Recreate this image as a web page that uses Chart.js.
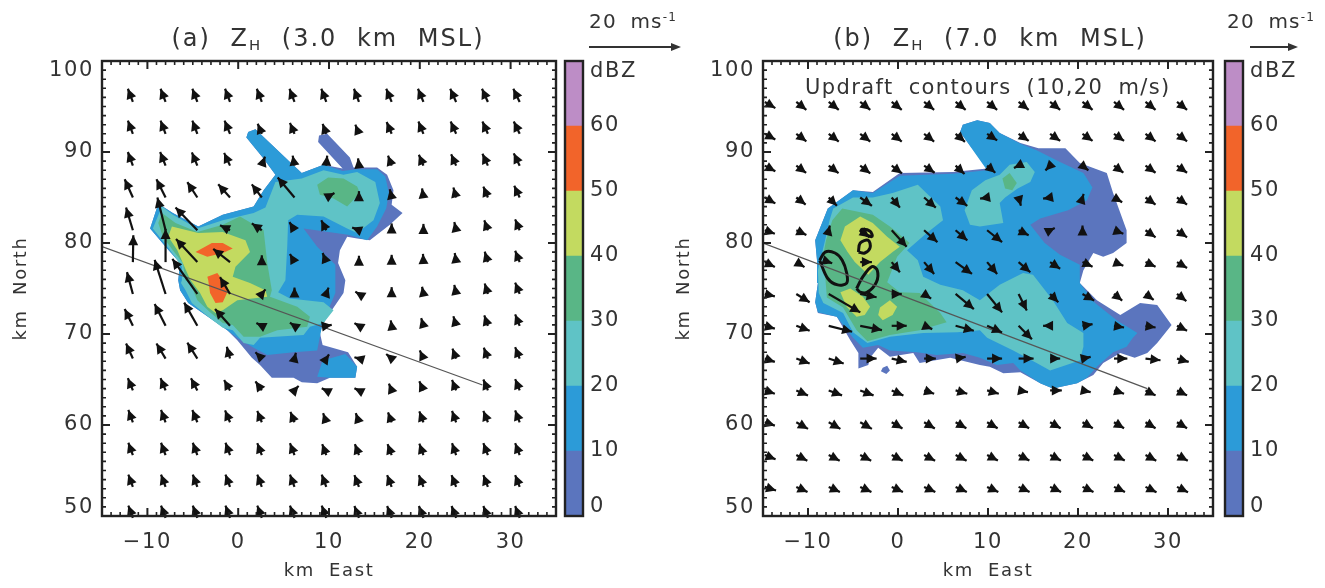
<!DOCTYPE html>
<html><head><meta charset="utf-8">
<script src="https://cdn.jsdelivr.net/npm/chart.js@4/dist/chart.umd.min.js"></script>
<style>
html,body{margin:0;padding:0;background:#fff;width:1325px;height:588px;overflow:hidden}
canvas{position:absolute;filter:blur(.45px)}
.t{position:absolute;white-space:nowrap;font-family:"DejaVu Sans";color:#333;filter:blur(.35px);line-height:1}
.t sub{font-size:.62em;vertical-align:-.25em;line-height:0}
.t sup{font-size:.6em;vertical-align:.55em;line-height:0}
.ttl{font-size:24px;letter-spacing:2px;word-spacing:10px;transform:translateX(-50%)}
.key{font-size:20px;letter-spacing:1.2px;word-spacing:6px}
svg{position:absolute;left:0;top:0;filter:blur(.35px)}
</style></head><body>
<canvas id="mapA" width="560" height="588" style="left:0;top:0;width:560px;height:588px"></canvas>
<canvas id="barA" width="100" height="588" style="left:560px;top:0;width:100px;height:588px"></canvas>
<canvas id="mapB" width="553" height="588" style="left:663px;top:0;width:553px;height:588px"></canvas>
<canvas id="barB" width="105" height="588" style="left:1220px;top:0;width:105px;height:588px"></canvas>
<div class="t ttl" style="left:328px;top:26px">(a) Z<sub>H</sub> (3.0 km MSL)</div>
<div class="t ttl" style="left:990px;top:26px">(b) Z<sub>H</sub> (7.0 km MSL)</div>
<div class="t key" style="left:589px;top:11px">20 ms<sup>-1</sup></div>
<div class="t key" style="left:1227px;top:11px">20 ms<sup>-1</sup></div>
<div class="t" style="left:805px;top:77px;font-size:21px;letter-spacing:1.4px;word-spacing:7px">Updraft contours (10,20 m/s)</div>
<svg width="1325" height="60"><g stroke="#333" stroke-width="2" fill="#333">
<line x1="589" y1="47" x2="674" y2="47"/><path d="M681 47 L671 43 L671 51 Z" stroke="none"/>
<line x1="1250" y1="47" x2="1291" y2="47"/><path d="M1298 47 L1288 43 L1288 51 Z" stroke="none"/>
</g></svg>
<script>
// ---------- axes ----------
const xTickValues=[-10,0,10,20,30];
const xTickLabels=['\u221210','0','10','20','30'];
const yTickValues=[50.9,60,70,80,90,99];
const yTickLabels=['50','60','70','80','90','100'];
const cbLevels=[0,10,20,30,40,50,60,70];
const cbColors=['#5b75be','#2c9bd8','#5fc3c6','#59b686','#c3da60','#f2642a','#bd8dc6'];
const cbTickValues=[1.4,10,20,30,40,50,60,68.4];
const cbTickLabels=['0','10','20','30','40','50','60','dBZ'];
// ---------- section lines ----------
const sectionA=[[-15,79.6],[26.9,64.4]];
const sectionB=[[-15,80],[27.7,64]];
// ---------- reflectivity polygons, panel a (km east, km north) ----------
const aLevel0=[[-9.7,81.6],[-8.8,84.3],[-7.2,83.3],[-4.4,81.8],[-1.7,83.1],[1.7,84],[2.8,85.8],[4.1,87.5],[2.7,89.4],[0.9,91.6],[1.1,92.2],[1.9,92.5],[3.7,90.8],[5.7,88.9],[7,87.7],[9.4,88.6],[11.5,88.2],[8.8,91.1],[8.9,91.8],[9.8,92],[12.3,89.4],[12.7,88.3],[15.3,88.3],[16.4,87.5],[17.1,85.8],[16.9,84.2],[18.1,83.3],[16.7,82],[14.5,80.3],[13.1,80.5],[12,80.7],[11.2,79.2],[11,77.8],[11.8,75.9],[11.6,74.5],[10.1,72.3],[9.4,71.2],[9,70.1],[9.3,68.8],[12.1,68],[13.1,66.4],[12.9,65.2],[10.1,65.2],[8.7,64.6],[7,64.7],[6.1,65.2],[3.7,65.2],[2.4,66.6],[1.5,67.4],[-0.1,69.3],[-1.2,70.4],[-3.6,72.1],[-5.5,73.4],[-6.4,74.8],[-6.6,75.9],[-6.4,77.8],[-8,79.6]];
const aLevel10=[[-9.7,81.6],[-8.8,84.3],[-7.2,83.3],[-4.4,81.8],[-1.7,83.1],[1.7,84],[2.8,85.8],[4.1,87.5],[2.7,89.4],[0.9,91.6],[1.1,92.2],[1.9,92.5],[3.7,90.8],[5.7,88.9],[7,87.7],[9.4,88.6],[11.5,87.9],[13,88.1],[15.3,88.1],[16.2,87.3],[16.6,85.5],[16.3,83.8],[15.3,81.8],[14.2,80.3],[12.1,80.9],[7.2,81.6],[8.7,79.6],[10.7,77.6],[10.7,74.5],[9.9,72.6],[9.3,71.2],[9,69.7],[8.7,68.2],[6.1,68],[3.2,67.7],[1.7,68.5],[0,69.5],[-1.2,70.4],[-3.6,72.1],[-5.5,73.4],[-6.4,74.8],[-6.6,75.9],[-6.4,77.8],[-8,79.6]];
const aLevel10b=[[8.7,65.3],[9.3,67.1],[11.8,67.8],[13.1,66.4],[12.9,65.2],[10.1,65.2]];
const aLevel20=[[-9.4,81.6],[-8.4,84],[-7.2,83.1],[-4.5,81.6],[-1.7,82.5],[1.7,83.3],[3,83.9],[4.1,86.7],[7,87.1],[9.4,88],[11.6,87.5],[13.1,87.8],[15.1,86.7],[15.6,84.4],[14.9,82.5],[13.1,81.1],[12,81.6],[9.4,82.9],[6.5,83.1],[5.5,82.5],[5.4,79.6],[5.2,75.9],[4.4,74.6],[5.7,73.9],[9.4,73.5],[10.5,72.6],[9.4,71.2],[7.9,70.8],[7.2,69.9],[2.4,69.6],[1.7,68.8],[0.6,69],[-0.6,70.4],[-1.7,70.7],[-3.3,71.9],[-5.1,73.4],[-5.8,74.8],[-6.3,75.6],[-6.2,75.9],[-6.2,77.4],[-7.5,79.2]];
const aLevel30=[[-8.4,83.3],[-6.9,82.2],[-4.5,81.2],[-1.7,82],[0.2,82.9],[2.8,81.4],[3.2,77.8],[3.7,74.8],[3.5,74.1],[6.5,73],[7.9,71.9],[7.6,70.8],[4.3,70.4],[2.4,69.7],[0.6,69.7],[-0.6,71],[-1.7,71.2],[-3.1,72.4],[-4.5,73.7],[-5.3,75.6],[-5.8,75.9],[-6.1,77.8],[-7.2,79.2],[-8.3,80.7],[-8.8,82.2]];
const aLevel30b=[[8.7,86.4],[9.9,87.2],[11.6,87.1],[13.1,86.2],[13.4,85.5],[12,84],[10.5,84.9],[9,85.3]];
const aLevel40=[[-7.3,81.8],[-4.4,81.1],[-1.7,81.2],[0.8,80.3],[1.3,79],[-0.3,77.4],[-0.6,76.3],[1.3,75.6],[3,74.8],[3.2,74.1],[-0.1,73.7],[-1.7,72.6],[-2.5,72.3],[-3.4,73],[-4.2,74.5],[-5.3,76],[-6.1,77.8],[-6.7,79.2],[-7.7,80.7]];
const aLevel50=[[-4.7,79],[-2.9,80],[-1.7,80],[-0.6,79.4],[-1.7,78.9],[-3.4,78.5]];
const aLevel50b=[[-3.4,76.3],[-2.3,76.7],[-1.2,75.2],[-1.1,74.8],[-1.7,73.5],[-2.5,73.4],[-3.1,74.5],[-3.3,75.9]];
// ---------- reflectivity polygons, panel b ----------
const bLevel0=[[-9.2,80.3],[-7.8,83.8],[-5,85.8],[-2.8,85.6],[0.2,87.7],[6.1,87.8],[9.9,88.2],[6.9,92.2],[7.2,93],[8.8,93.5],[10.2,93.2],[11.3,92.1],[13.6,91],[15.6,90.4],[18.6,90.4],[20.2,88.8],[23.2,87.7],[23.9,85.5],[25.4,81.4],[25.4,80],[23.9,78.9],[22.8,78.5],[21.7,78.9],[20.6,77],[20.2,75.6],[22.1,73.7],[24.7,72.1],[26.9,73.4],[28.8,73.2],[30.4,71],[28.8,69],[27.7,67.9],[26.3,67.4],[24.7,67.9],[22.8,66.8],[21.7,65.5],[19.9,64.6],[17.2,64],[15.8,64.6],[13.6,65.8],[11.7,65.7],[10.2,66.4],[9.1,66.6],[5.8,67.4],[2.4,66.8],[1.7,67.9],[-0.9,67.5],[-2.2,68.5],[-3.1,67.4],[-3.3,66.6],[-4.4,66.2],[-4.4,67.9],[-5.3,69.3],[-6.8,71.9],[-8.9,72.3],[-9.2,73.5],[-8.9,75.6],[-9,78.1]];
const bDot=[[-1.7,66.3],[-1.2,66.5],[-0.9,66],[-1.3,65.6],[-1.9,65.9]];
const bLevel10=[[-9.2,80.3],[-7.8,83.8],[-5,85.8],[-2.8,85.5],[0.2,87.4],[6.1,87.6],[9.9,88],[6.9,92.2],[7.2,93],[8.8,93.5],[10.2,93.2],[11.3,92.1],[13.6,90.9],[15.4,90.2],[18,88.9],[20.6,87.7],[21.6,86.1],[21,84.7],[18.9,83.6],[15.8,82.7],[14.7,82],[16.3,80],[18,78.7],[20.2,77.6],[20.2,75.6],[21.9,73.4],[24.3,71.5],[26.6,70.1],[26.1,69.6],[25.4,68.6],[23.9,68],[22.1,66.4],[21,65.2],[19.9,64.6],[17.2,64],[15.8,64.6],[13.6,66],[12.8,66.8],[11,66.6],[9.1,67.4],[7.2,67.9],[4.3,67.7],[2.1,68],[-0.9,68.2],[-2.2,68.8],[-3.9,68.5],[-5,69.6],[-6.8,71.9],[-8.9,72.4],[-9.2,73.5],[-8.9,75.6],[-9,78.1]];
const bLevel20=[[-8.1,80.3],[-7.6,82.5],[-7.2,83.8],[-5,85],[-2.8,85],[-0.6,85.5],[2.2,86.4],[4.7,84],[5,82.5],[3.2,81.1],[1,79.2],[2.2,78.1],[2.8,76.3],[4.7,75.4],[7.2,74.8],[9.1,73.7],[11.3,75.4],[13.9,76.7],[15,76.5],[17.2,73.7],[18.8,71.2],[20.6,70.1],[20.6,68.6],[20.2,67.1],[16.9,66],[15.4,66.8],[12.8,68.2],[9.9,69.6],[9.1,70.4],[6.6,70.2],[2.8,70.1],[-0.9,69.7],[-3.4,69],[-5,70.2],[-6.1,72.3],[-8.3,73.4],[-8.8,74.5],[-8.9,77]];
const bLevel20b=[[8.2,85.8],[9.7,86.9],[11.3,87.5],[12.4,88.6],[14.3,88.9],[15.2,87.8],[14.7,86.7],[13.3,86],[11.9,85],[11.3,84.4],[11.7,82.2],[9.1,81.8],[8,82],[7.4,83.6]];
const bLevel30=[[-7.3,82.5],[-6.2,83.8],[-2.8,83.1],[-0.9,81.8],[1.3,80],[-0.1,78.5],[-1.2,75.7],[0.2,74.6],[2.4,74.5],[4.7,72.3],[5.4,71.3],[2.4,70.4],[-0.9,69.9],[-3.4,69.2],[-4.6,70.4],[-6.1,72.9],[-7.9,74],[-8.1,76.5],[-8.3,78.7],[-8,80.3]];
const bLevel30b=[[11.6,87.1],[12.4,87.7],[13.2,86.6],[12.7,85.8],[11.9,86]];
const bLevel40=[[-5.9,81.8],[-4.2,82.9],[-2.8,82.2],[-1.2,80.7],[0.2,79.6],[-0.6,79],[-2,77.9],[-3.3,76.5],[-4.8,77.9],[-5.6,79],[-6.4,80.3]];
const bLevel40b=[[-6.4,74.6],[-5.3,75],[-3.9,74.1],[-3.1,73],[-3.7,72.1],[-4.6,71.9],[-5.7,73]];
const bLevel40c=[[-2,72.9],[-0.9,73.7],[-0.1,73],[-0.6,72.1],[-1.7,71.5],[-2.2,72.1]];
// ---------- updraft contours, panel b ----------
const updraft1=[[-8.7,78.1],[-8.1,79],[-7,78.9],[-6.2,78.1],[-5.7,76.7],[-5.7,75.6],[-6.7,75.4],[-7.8,76.1],[-8.7,78.1]];
const updraft2=[[-4.6,75],[-3.9,76.3],[-2.9,77.4],[-2.3,77],[-2.4,75.7],[-3.4,74.6],[-4.2,74.6],[-4.6,75]];
const updraft3=[[-4.4,79],[-4.2,80],[-3.3,80.3],[-3.1,79.5],[-3.7,78.9],[-4.4,79]];
const updraft4=[[-4.2,81.2],[-2.9,80.7],[-3.1,81.3],[-4,81.5],[-4.2,81.2]];
// ---------- wind vectors, panel a (m/s) ----------
const xGridA=[-11.6,-8,-4.5,-0.9,2.6,6.2,9.7,13.3,16.9,20.4,24,27.5,31];
const yGridA=[95.5,92,88.5,85,81.4,77.9,74.4,70.9,67.3,63.8,60.3,56.7,53.2,49.8];
const uA=[
[-1.1,-1.1,-1.1,-1.1,-1.1,-1.1,-1.1,-1.1,-1.2,-1.2,-1.3,-1.3,-1.4],
[-1.1,-1.1,-1.1,-1.2,-0.9,-1.0,-0.8,-0.8,-1.1,-1.1,-1.2,-1.2,-1.3],
[-1.1,-1.2,-1.2,-1.3,0.7,-0.4,0.2,-0.2,-0.8,-1.0,-1.1,-1.2,-1.3],
[-1.8,-2.0,-2.2,-2.6,-2.2,-3.7,1.8,0.0,-0.4,-0.3,-0.6,-1.0,-1.2],
[-1.5,-1.8,-4.8,-2.2,-2.2,-1.1,-1.1,-1.5,0.0,0.0,-0.4,-0.8,-1.0],
[0.1,0.0,-4.7,-3.7,0.0,-1.0,-0.8,0.0,0.0,-0.1,-0.3,-0.7,-1.0],
[-1.3,-2.4,-5.5,-2.2,0.8,0.0,0.5,-0.8,0.0,-0.3,-0.4,-0.7,-1.0],
[-1.8,-2.4,-2.9,-3.3,-1.2,-1.0,1.2,-1.0,-0.2,-0.5,-0.6,-0.8,-1.0],
[-1.5,-2.0,-2.2,-0.7,-1.4,0.3,0.6,-1.0,-1.2,-0.8,-0.8,-0.9,-1.0],
[-1.1,-1.1,-1.4,-1.3,-1.4,0.9,-1.0,-1.0,-0.6,-0.9,-0.9,-1.0,-1.0],
[-1.0,-1.0,-1.1,-1.1,-1.0,-0.9,-0.7,-0.7,-0.8,-0.9,-0.9,-1.0,-1.0],
[-1.0,-1.0,-1.0,-1.0,-1.0,-1.0,-0.9,-0.9,-0.9,-0.9,-0.9,-1.0,-1.0],
[-1.0,-1.0,-1.0,-1.0,-1.0,-1.0,-1.0,-1.0,-1.0,-1.0,-1.0,-1.0,-1.0],
[-1.0,-1.0,-1.0,-1.0,-1.0,-1.0,-1.0,-1.0,-1.0,-1.0,-1.0,-1.0,-1.0]];
const vA=[
[2.9,2.9,2.9,2.9,2.9,2.9,2.9,2.9,2.9,2.9,2.9,2.9,2.9],
[2.9,2.9,2.9,2.9,2.2,2.4,2.2,2.0,2.6,2.7,2.7,2.7,2.7],
[3.0,3.0,2.9,2.8,2.0,2.2,2.2,1.6,2.2,2.4,2.5,2.6,2.7],
[4.0,4.0,3.4,2.9,2.9,4.4,1.0,1.4,1.8,2.0,2.2,2.4,2.6],
[5.0,7.2,5.0,1.1,1.5,1.8,2.2,0.6,1.5,1.4,1.8,2.2,2.4],
[5.9,7.3,5.1,2.9,1.5,1.8,2.0,1.4,1.6,1.8,2.0,2.3,2.5],
[4.8,7.5,7.7,3.7,1.0,1.4,1.4,0.5,1.5,1.6,2.0,2.3,2.5],
[3.7,4.8,5.1,3.7,0.6,0.7,0.2,0.6,1.2,1.7,2.1,2.3,2.5],
[3.3,3.3,3.5,2.6,1.4,1.3,0.9,0.3,1.0,1.8,2.2,2.4,2.5],
[2.7,2.7,2.7,2.3,2.0,1.0,0.5,0.5,1.5,2.0,2.3,2.4,2.5],
[2.7,2.7,2.7,2.6,2.5,2.3,2.0,2.0,2.2,2.4,2.5,2.5,2.6],
[2.7,2.7,2.7,2.7,2.6,2.6,2.4,2.4,2.4,2.5,2.6,2.6,2.6],
[2.7,2.7,2.7,2.7,2.7,2.7,2.7,2.6,2.6,2.6,2.6,2.6,2.6],
[2.7,2.7,2.7,2.7,2.7,2.7,2.7,2.6,2.6,2.6,2.6,2.6,2.6]];
// ---------- wind vectors, panel b (m/s) ----------
const xGridB=[-14.8,-11.3,-7.7,-4.2,-0.7,2.9,6.4,9.9,13.4,16.9,20.5,24,27.5,31];
const yGridB=[95.5,92,88.5,85,81.4,77.9,74.4,70.9,67.3,63.8,60.3,56.7,53.2];
const uB=[
[4.5,4.3,4.3,4.3,4.3,4.3,4.3,4.3,4.3,4.3,4.3,4.3,4.3,4.3],
[4.5,4.3,4.3,4.3,4.3,4.3,4.0,4.3,4.3,4.3,4.3,4.3,4.3,4.3],
[4.5,4.2,4.2,4.3,4.4,4.5,3.8,3.5,-2.0,-2.0,2.5,4.0,4.3,4.3],
[4.5,4.0,3.5,5.0,3.5,5.0,5.0,-3.0,1.0,-3.0,0.5,3.5,4.3,4.3],
[4.3,4.3,0.5,4.0,6.4,5.7,5.0,6.4,4.3,2.0,0.0,4.0,4.3,4.3],
[4.3,3.5,1.5,5.0,3.5,4.3,7.0,4.3,5.0,4.3,4.3,4.0,4.3,4.3],
[4.3,5.7,13.5,7.0,4.3,3.0,7.8,6.4,3.5,3.5,5.0,3.5,3.5,4.0],
[4.3,5.7,10.0,9.3,6.4,3.5,7.8,6.4,5.7,-3.0,4.3,4.3,4.3,4.3],
[4.3,5.7,6.4,7.0,6.4,5.0,4.3,6.4,6.4,4.3,3.5,5.7,6.4,5.0],
[4.3,5.0,5.7,5.7,5.0,4.3,5.0,5.0,4.0,5.0,3.5,4.3,4.3,4.3],
[4.3,5.0,5.0,5.0,4.6,4.6,4.6,4.5,4.5,4.5,4.4,4.3,4.3,4.3],
[4.6,4.7,4.7,4.7,4.7,4.7,4.7,4.6,4.6,4.6,4.6,4.6,4.6,4.6],
[4.8,4.8,4.8,4.8,4.8,4.8,4.8,4.8,4.7,4.7,4.7,4.7,4.7,4.7]];
const vB=[
[-2.6,-3.3,-3.3,-3.3,-3.3,-3.3,-3.3,-3.3,-3.3,-3.3,-3.3,-3.3,-3.3,-3.3],
[-2.4,-3.2,-3.3,-3.3,-3.3,-3.3,-3.4,-2.8,-3.0,-3.0,-3.0,-3.0,-3.2,-3.2],
[-2.4,-3.1,-3.2,-3.3,-3.3,-3.0,-3.5,-3.0,-1.0,-2.0,-2.0,-3.0,-3.0,-3.0],
[-2.5,-3.0,-3.5,-3.5,-4.3,-4.3,-3.5,-0.5,-3.5,-0.5,1.5,-2.0,-3.0,-3.0],
[-1.5,-2.0,2.0,-3.0,-7.0,-5.0,-4.3,-5.0,-2.1,1.0,2.0,-1.5,-3.0,-3.0],
[-2.1,-2.1,-0.5,0.0,-4.3,-5.0,-5.0,-5.0,-4.3,-2.8,-2.0,-1.5,-2.0,-2.5],
[-1.0,-3.5,-7.8,-1.4,0.0,-2.0,-6.4,-7.8,-7.0,-3.5,-2.8,-2.8,-2.5,-3.0],
[-1.2,-2.1,-2.5,-1.8,0.0,-1.4,-2.1,-2.8,-5.7,0.0,0.7,-0.7,-0.7,-2.1],
[-1.4,-2.1,-2.1,0.0,-1.4,0.0,0.7,0.0,0.0,0.0,0.7,0.0,-0.7,-1.4],
[-1.4,-2.1,-2.1,-2.1,-2.1,-1.4,-1.4,-1.4,-0.7,0.0,-0.7,-1.4,-2.1,-2.1],
[-1.4,-2.8,-2.8,-2.8,-2.6,-2.6,-2.5,-2.5,-2.5,-2.5,-2.5,-2.5,-2.5,-2.5],
[-1.8,-2.4,-2.4,-2.4,-2.4,-2.4,-2.4,-2.3,-2.3,-2.3,-2.3,-2.3,-2.4,-2.4],
[-1.5,-2.2,-2.2,-2.2,-2.2,-2.2,-2.2,-2.2,-2.2,-2.2,-2.2,-2.2,-2.3,-2.3]];

const ink='#222', labelColor='#333';
const c=cbColors;
const polysA=[[aLevel0,c[0]],[aLevel10,c[1]],[aLevel10b,c[1]],[aLevel20,c[2]],[aLevel30,c[3]],[aLevel30b,c[3]],[aLevel40,c[4]],[aLevel50,c[5]],[aLevel50b,c[5]]];
const polysB=[[bLevel0,c[0]],[bDot,c[0]],[bLevel10,c[1]],[bLevel20,c[2]],[bLevel20b,c[2]],[bLevel30,c[3]],[bLevel30b,c[3]],[bLevel40,c[4]],[bLevel40b,c[4]],[bLevel40c,c[4]]];
const pts=a=>a.map(p=>({x:p[0],y:p[1]}));

const textStyle={id:'textStyle',beforeDraw(ch){const x=ch.ctx;x.letterSpacing='1.6px';x.wordSpacing='7px';}};
const frame={id:'frame',afterDatasetsDraw(ch,args,o){
  const x=ch.ctx,s=ch.scales,a=ch.chartArea;
  if(ch.config.type==='scatter'){
    const meta=ch.getDatasetMeta(ch.data.datasets.findIndex(d=>d.label==='wind'));
    x.save();x.fillStyle='#111';x.strokeStyle='#111';x.lineWidth=2.2;
    meta._dataset.data.forEach(d=>{
      const x0=s.x.getPixelForValue(d.x),y0=s.y.getPixelForValue(d.y);
      const x1=s.x.getPixelForValue(d.x+d.u*o.kmPerMs),y1=s.y.getPixelForValue(d.y+d.v*o.kmPerMs);
      const an=Math.atan2(y1-y0,x1-x0),hl=10,hw=5;
      x.beginPath();x.moveTo(x0,y0);x.lineTo(x1,y1);x.stroke();
      const bx=x1-hl*Math.cos(an),by=y1-hl*Math.sin(an);
      x.beginPath();x.moveTo(x1,y1);x.lineTo(bx-hw*Math.sin(an),by+hw*Math.cos(an));x.lineTo(bx+hw*Math.sin(an),by-hw*Math.cos(an));x.closePath();x.fill();
    });
    x.restore();
    x.save();x.strokeStyle=ink;
    for(let v=-15;v<=35;v++){const p=s.x.getPixelForValue(v),m=v%10===0,l=m?8:4;
      x.lineWidth=m?2:1.6;x.beginPath();x.moveTo(p,a.top);x.lineTo(p,a.top+l);x.moveTo(p,a.bottom);x.lineTo(p,a.bottom-l);x.stroke();}
    for(let v=50;v<=100;v++){const p=s.y.getPixelForValue(v),m=v%10===0,l=m?8:4;
      x.lineWidth=m?2:1.6;x.beginPath();x.moveTo(a.left,p);x.lineTo(a.left+l,p);x.moveTo(a.right,p);x.lineTo(a.right-l,p);x.stroke();}
    x.restore();
  }
  x.save();x.strokeStyle=ink;x.lineWidth=2.4;x.strokeRect(a.left,a.top,a.right-a.left,a.bottom-a.top);x.restore();
}};

function mapChart(id,polys,section,xs,ys,us,vs,km,axisW,rightPad,contours){
  const ds=polys.map((p,i)=>({data:pts(p[0]),showLine:true,fill:'shape',backgroundColor:p[1],borderWidth:0,borderColor:p[1],pointRadius:0,order:-i}));
  (contours||[]).forEach(q=>ds.push({data:pts(q),showLine:true,fill:false,borderColor:'#111',borderWidth:3,tension:.35,pointRadius:0,order:-50}));
  ds.push({data:pts(section),showLine:true,fill:false,borderColor:'#555',borderWidth:1.2,pointRadius:0,order:-60});
  const wind=[];ys.forEach((y,r)=>xs.forEach((x,k)=>wind.push({x,y,u:us[r][k],v:vs[r][k]})));
  ds.push({label:'wind',data:wind,showLine:false,pointRadius:0,order:-70});
  return new Chart(document.getElementById(id),{type:'scatter',data:{datasets:ds},plugins:[textStyle,frame],
   options:{responsive:false,animation:false,devicePixelRatio:1,
    layout:{padding:{top:61,right:rightPad,left:0,bottom:0}},
    plugins:{legend:{display:false},tooltip:{enabled:false},title:{display:false},frame:{kmPerMs:km}},
    scales:{
     x:{type:'linear',min:-15,max:35,border:{display:false},grid:{display:false,drawTicks:false},
        afterBuildTicks:s=>{s.ticks=xTickValues.map(value=>({value}));},
        afterFit:s=>{s.height=72;},
        ticks:{autoSkip:false,maxRotation:0,padding:14,color:labelColor,font:{family:'DejaVu Sans',size:21},callback:(v,i)=>xTickLabels[i]},
        title:{display:true,text:'km East',color:labelColor,font:{family:'DejaVu Sans',size:18},padding:{top:6,bottom:6}}},
     y:{type:'linear',min:50,max:100,border:{display:false},grid:{display:false,drawTicks:false},
        afterBuildTicks:s=>{s.ticks=yTickValues.map(value=>({value}));},
        afterFit:s=>{s.width=axisW;},
        ticks:{autoSkip:false,padding:8,color:labelColor,font:{family:'DejaVu Sans',size:21},callback:(v,i)=>yTickLabels[i]},
        title:{display:true,text:'km North',color:labelColor,font:{family:'DejaVu Sans',size:18},padding:{top:11,bottom:4}}}
    }}});
}
function barChart(id,padLeft){
  const ds=cbColors.map((col,i)=>({data:[[cbLevels[i],cbLevels[i+1]]],backgroundColor:col,borderWidth:0,barPercentage:1,categoryPercentage:1}));
  return new Chart(document.getElementById(id),{type:'bar',data:{labels:['dBZ'],datasets:ds},plugins:[textStyle,frame],
   options:{responsive:false,animation:false,devicePixelRatio:1,
    layout:{padding:{top:61,bottom:72,left:padLeft,right:0}},
    plugins:{legend:{display:false},tooltip:{enabled:false}},
    scales:{
     x:{stacked:true,display:false},
     y:{position:'right',min:0,max:70,border:{display:false},grid:{display:false,drawTicks:false},
        afterBuildTicks:s=>{s.ticks=cbTickValues.map(value=>({value}));},
        afterFit:s=>{s.width=document.getElementById(id).width-padLeft-18;},
        ticks:{autoSkip:false,padding:7,color:labelColor,font:{family:'DejaVu Sans',size:21},callback:(v,i)=>cbTickLabels[i]}}
    }}});
}
mapChart('mapA',polysA,sectionA,xGridA,yGridA,uA,vA,0.5,102,4);
mapChart('mapB',polysB,sectionB,xGridB,yGridB,uB,vB,0.26,100,3,[updraft1,updraft2,updraft3,updraft4]);
barChart('barA',5);
barChart('barB',5);
</script>
</body></html>
